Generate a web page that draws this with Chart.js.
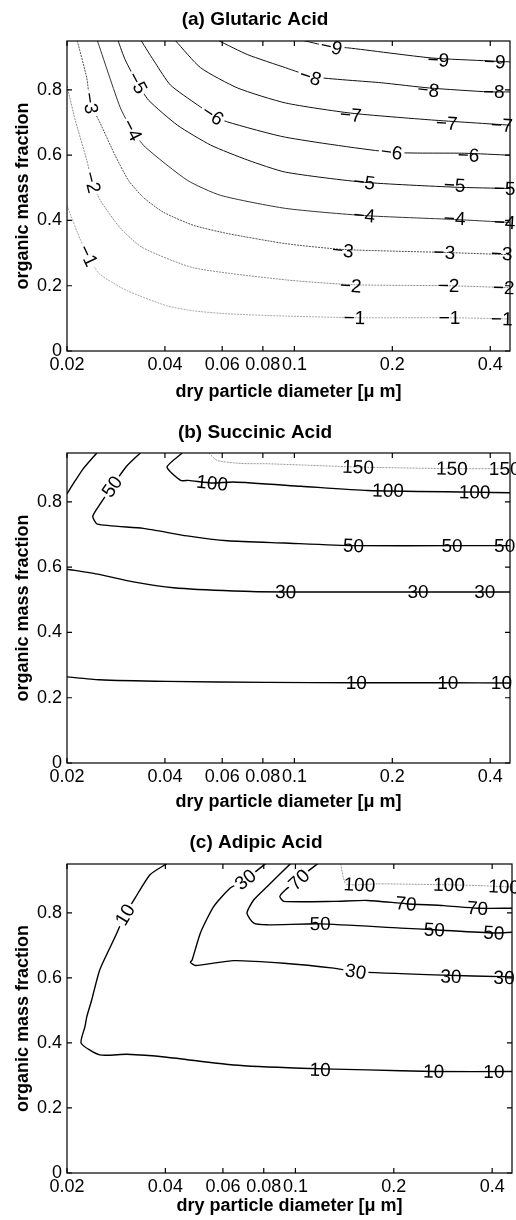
<!DOCTYPE html>
<html>
<head>
<meta charset="utf-8">
<script src="https://cdn.jsdelivr.net/npm/chart.js@4.4.0/dist/chart.umd.min.js"></script>
<style>
html, body { margin: 0; padding: 0; background: #fff; }
body { width: 516px; height: 1220px; position: relative; overflow: hidden; }
.panel { position: absolute; left: 0; width: 516px; }
</style>
</head>
<body>
<div class="panel" style="top:0;height:411px"><canvas id="chartA"></canvas></div>
<div class="panel" style="top:411px;height:411px"><canvas id="chartB"></canvas></div>
<div class="panel" style="top:822px;height:398px"><canvas id="chartC"></canvas></div>
<script>
// axes
const xTicks = [0.02, 0.04, 0.06, 0.08, 0.1, 0.2, 0.4];
const yTicks = [0, 0.2, 0.4, 0.6, 0.8];
const xRange = [0.02, 0.46];
const yRange = [0, 0.95];

// (a) Glutaric acid contours
const glutaricLevels = [-1, -2, -3, -4, -5, -6, -7, -8, -9];
const glutaricX = [
  [0.02, 0.0219, 0.0232, 0.0251, 0.0306, 0.0407, 0.049, 0.0623, 0.094, 0.157, 0.304, 0.46],
  [0.02, 0.0212, 0.023, 0.0239, 0.0253, 0.0291, 0.0341, 0.049, 0.094, 0.152, 0.298, 0.46],
  [0.0215, 0.023, 0.0236, 0.0253, 0.0281, 0.0309, 0.0343, 0.0396, 0.049, 0.0623, 0.094, 0.142, 0.29, 0.46],
  [0.0248, 0.0291, 0.0317, 0.0348, 0.0469, 0.0593, 0.094, 0.164, 0.311, 0.46],
  [0.0287, 0.0302, 0.0329, 0.0356, 0.0437, 0.0553, 0.0719, 0.094, 0.164, 0.311, 0.46],
  [0.0338, 0.0374, 0.0416, 0.0504, 0.0561, 0.0623, 0.094, 0.199, 0.334, 0.46],
  [0.0431, 0.0515, 0.0669, 0.094, 0.149, 0.264, 0.46],
  [0.0585, 0.0719, 0.094, 0.115, 0.185, 0.26, 0.396, 0.46],
  [0.107, 0.13, 0.146, 0.264, 0.396, 0.46]
];
const glutaricY = [
  [0.446, 0.345, 0.292, 0.237, 0.185, 0.138, 0.123, 0.114, 0.107, 0.102, 0.102, 0.098],
  [0.812, 0.708, 0.585, 0.517, 0.462, 0.378, 0.317, 0.255, 0.218, 0.203, 0.2, 0.194],
  [0.951, 0.837, 0.76, 0.698, 0.6, 0.523, 0.471, 0.425, 0.385, 0.36, 0.329, 0.311, 0.302, 0.295],
  [0.951, 0.748, 0.677, 0.625, 0.523, 0.477, 0.437, 0.415, 0.403, 0.394],
  [0.951, 0.892, 0.822, 0.769, 0.692, 0.631, 0.585, 0.548, 0.517, 0.502, 0.498],
  [0.951, 0.882, 0.815, 0.754, 0.723, 0.702, 0.655, 0.609, 0.606, 0.6],
  [0.951, 0.868, 0.806, 0.76, 0.729, 0.708, 0.692],
  [0.951, 0.908, 0.868, 0.84, 0.822, 0.806, 0.794, 0.794],
  [0.951, 0.932, 0.929, 0.898, 0.889, 0.886]
];
const glutaricLabels = [
  [-9, 0.13, 0.932], [-9, 0.277, 0.892], [-9, 0.413, 0.886],
  [-8, 0.112, 0.84], [-8, 0.258, 0.8], [-8, 0.41, 0.794],
  [-7, 0.149, 0.723], [-7, 0.294, 0.698], [-7, 0.434, 0.692],
  [-6, 0.0561, 0.723], [-6, 0.199, 0.609], [-6, 0.343, 0.6],
  [-5, 0.0329, 0.822], [-5, 0.164, 0.517], [-5, 0.311, 0.508], [-5, 0.443, 0.498],
  [-4, 0.0317, 0.677], [-4, 0.164, 0.415], [-4, 0.311, 0.406], [-4, 0.443, 0.394],
  [-3, 0.0236, 0.76], [-3, 0.141, 0.308], [-3, 0.289, 0.302], [-3, 0.434, 0.298],
  [-2, 0.0239, 0.517], [-2, 0.149, 0.2], [-2, 0.298, 0.2], [-2, 0.44, 0.194],
  [-1, 0.0232, 0.292], [-1, 0.153, 0.102], [-1, 0.3, 0.102], [-1, 0.434, 0.098]
];

// (b) Succinic acid
const succinicLevels = [10, 30, 50, 50, 100, 150];
const succinicX = [
  [0.02, 0.0251, 0.0407, 0.0828, 0.155, 0.3, 0.46],
  [0.02, 0.0251, 0.032, 0.0425, 0.065, 0.094, 0.234, 0.385, 0.46],
  [0.0336, 0.0304, 0.0275, 0.0253, 0.024, 0.0248, 0.0343, 0.0468, 0.0622, 0.093, 0.152, 0.305, 0.46],
  [0.02, 0.0212, 0.02245, 0.0247],
  [0.0452, 0.0406, 0.0447, 0.0473, 0.0559, 0.065, 0.1048, 0.168, 0.358, 0.46],
  [0.0545, 0.058, 0.0684, 0.0828, 0.157, 0.305, 0.46]
];
const succinicY = [
  [0.264, 0.255, 0.25, 0.247, 0.246, 0.246, 0.245],
  [0.594, 0.578, 0.555, 0.537, 0.527, 0.524, 0.524, 0.524, 0.524],
  [0.95, 0.908, 0.847, 0.794, 0.756, 0.732, 0.719, 0.696, 0.681, 0.674, 0.666, 0.666, 0.666],
  [0.825, 0.865, 0.902, 0.95],
  [0.95, 0.907, 0.866, 0.866, 0.858, 0.861, 0.848, 0.835, 0.83, 0.828],
  [0.95, 0.927, 0.918, 0.917, 0.907, 0.902, 0.902]
];
const succinicLabels = [
  [150, 0.157, 0.907], [150, 0.305, 0.902], [150, 0.443, 0.902],
  [100, 0.0559, 0.858], [100, 0.194, 0.835], [100, 0.358, 0.83],
  [50, 0.0275, 0.847], [50, 0.152, 0.666], [50, 0.305, 0.666], [50, 0.443, 0.666],
  [30, 0.094, 0.524], [30, 0.24, 0.524], [30, 0.385, 0.524],
  [10, 0.155, 0.246], [10, 0.296, 0.246], [10, 0.433, 0.246]
];

// (c) Adipic acid
const adipicLevels = [10, 30, 50, 70, 100];
const adipicX = [
  [0.0404, 0.0359, 0.0323, 0.0301, 0.0281, 0.0252, 0.0238, 0.023, 0.0227, 0.0221, 0.0252, 0.0305, 0.0404, 0.0646, 0.1037, 0.166, 0.265, 0.46],
  [0.081, 0.0703, 0.0632, 0.0562, 0.0512, 0.0483, 0.0477, 0.0494, 0.0647, 0.0922, 0.131, 0.153, 0.266, 0.46],
  [0.0966, 0.082, 0.0746, 0.0711, 0.0746, 0.082, 0.119, 0.21, 0.266, 0.405, 0.46],
  [0.117, 0.109, 0.1025, 0.0933, 0.0896, 0.0922, 0.131, 0.166, 0.218, 0.285, 0.361, 0.46],
  [0.1376, 0.14, 0.143, 0.157, 0.178, 0.295, 0.378, 0.46]
];
const adipicY = [
  [0.951, 0.917, 0.845, 0.794, 0.727, 0.625, 0.532, 0.481, 0.45, 0.399, 0.363, 0.365, 0.356, 0.332, 0.322, 0.317, 0.312, 0.312],
  [0.951, 0.902, 0.876, 0.819, 0.738, 0.655, 0.648, 0.638, 0.653, 0.645, 0.63, 0.619, 0.609, 0.603],
  [0.951, 0.881, 0.84, 0.799, 0.768, 0.763, 0.766, 0.753, 0.748, 0.738, 0.74],
  [0.951, 0.927, 0.902, 0.871, 0.85, 0.835, 0.835, 0.838, 0.828, 0.822, 0.814, 0.814],
  [0.951, 0.91, 0.888, 0.886, 0.889, 0.886, 0.883, 0.879]
];
const adipicLabels = [
  [10, 0.0301, 0.794], [10, 0.119, 0.317], [10, 0.265, 0.312], [10, 0.405, 0.312],
  [30, 0.0703, 0.902], [30, 0.153, 0.619], [30, 0.299, 0.604], [30, 0.435, 0.6],
  [50, 0.119, 0.766], [50, 0.266, 0.748], [50, 0.405, 0.738],
  [70, 0.1025, 0.902], [70, 0.218, 0.828], [70, 0.361, 0.814],
  [100, 0.157, 0.886], [100, 0.295, 0.886], [100, 0.435, 0.88]
];

const fontFamily = '"Liberation Sans", Arial, Helvetica, sans-serif';

function levelText(level) {
  return level < 0 ? '\u2212' + Math.abs(level) : String(level);
}

// line look per contour level
function glutaricStyle(level) {
  if (level === -1) return { borderColor: '#a8a8a8', borderWidth: 1, borderDash: [2, 1] };
  if (level === -2) return { borderColor: '#8c8c8c', borderWidth: 1, borderDash: [2, 1] };
  if (level === -3) return { borderColor: '#505050', borderWidth: 1, borderDash: [2, 1] };
  if (level === -4) return { borderColor: '#333', borderWidth: 1 };
  return { borderColor: '#111', borderWidth: 1 };
}
function succinicStyle(level) {
  if (level === 150) return { borderColor: '#9a9a9a', borderWidth: 1, borderDash: [2, 1] };
  return { borderColor: '#000', borderWidth: 1.4 };
}
function adipicStyle(level) {
  if (level === 100) return { borderColor: '#9a9a9a', borderWidth: 1, borderDash: [2, 1] };
  return { borderColor: '#000', borderWidth: 1.4 };
}

function makeDatasets(levels, xs, ys, styleFor) {
  return levels.map((level, i) => Object.assign({
    level: level,
    data: xs[i].map((x, j) => ({ x: x, y: ys[i][j] })),
    showLine: true,
    pointRadius: 0,
    pointHoverRadius: 0,
    fill: false,
    tension: 0.2
  }, styleFor(level)));
}

// clabel-like text, turned along the nearest piece of its contour
function labelPlugin(items) {
  return {
    id: 'contourLabels',
    afterDatasetsDraw(chart) {
      const ctx = chart.ctx, sx = chart.scales.x, sy = chart.scales.y;
      ctx.save();
      ctx.font = '19px ' + fontFamily;
      ctx.textAlign = 'center';
      ctx.textBaseline = 'middle';
      items.forEach(item => {
        const level = item[0];
        const px = sx.getPixelForValue(item[1]), py = sy.getPixelForValue(item[2]);
        let best = Infinity, angle = 0;
        chart.data.datasets.forEach(ds => {
          if (ds.level !== level) return;
          for (let i = 1; i < ds.data.length; i++) {
            const ax = sx.getPixelForValue(ds.data[i - 1].x), ay = sy.getPixelForValue(ds.data[i - 1].y);
            const bx = sx.getPixelForValue(ds.data[i].x), by = sy.getPixelForValue(ds.data[i].y);
            const dx = bx - ax, dy = by - ay, len2 = dx * dx + dy * dy || 1;
            let t = ((px - ax) * dx + (py - ay) * dy) / len2;
            t = Math.max(0, Math.min(1, t));
            const qx = ax + t * dx - px, qy = ay + t * dy - py, d = qx * qx + qy * qy;
            if (d < best) { best = d; angle = Math.atan2(dy, dx); }
          }
        });
        if (angle > Math.PI / 2) angle -= Math.PI;
        if (angle <= -Math.PI / 2) angle += Math.PI;
        const text = levelText(level);
        ctx.save();
        ctx.translate(px, py);
        ctx.rotate(angle);
        if (Math.abs(angle) > 0.14) {
          const w = ctx.measureText(text).width + 4;
          ctx.fillStyle = '#fff';
          ctx.fillRect(-w / 2, -9, w, 18);
        }
        ctx.fillStyle = '#000';
        ctx.fillText(text, 0, 1);
        ctx.restore();
      });
      ctx.restore();
    }
  };
}

// box round the plot with inward ticks on all four sides
const frameTicks = {
  id: 'frameTicks',
  afterDraw(chart) {
    const ctx = chart.ctx, a = chart.chartArea, sx = chart.scales.x, sy = chart.scales.y;
    ctx.save();
    ctx.strokeStyle = '#000';
    ctx.lineWidth = 1.2;
    ctx.strokeRect(a.left, a.top, a.right - a.left, a.bottom - a.top);
    ctx.beginPath();
    xTicks.forEach(v => {
      const x = sx.getPixelForValue(v);
      ctx.moveTo(x, a.bottom); ctx.lineTo(x, a.bottom - 5);
      ctx.moveTo(x, a.top); ctx.lineTo(x, a.top + 5);
    });
    yTicks.forEach(v => {
      const y = sy.getPixelForValue(v);
      ctx.moveTo(a.left, y); ctx.lineTo(a.left + 5, y);
      ctx.moveTo(a.right, y); ctx.lineTo(a.right - 5, y);
    });
    ctx.stroke();
    ctx.restore();
  }
};

function drawPanel(canvasId, title, datasets, labels, pad) {
  new Chart(document.getElementById(canvasId), {
    type: 'scatter',
    data: { datasets: datasets },
    options: {
      responsive: true,
      maintainAspectRatio: false,
      animation: false,
      events: [],
      layout: { padding: { left: 0, right: pad.right, top: 0, bottom: 0 } },
      plugins: {
        legend: { display: false },
        tooltip: { enabled: false },
        title: {
          display: true,
          text: title,
          color: '#000',
          font: { family: fontFamily, size: 19, weight: 'bold' },
          padding: { top: pad.titleTop, bottom: pad.titleBottom }
        }
      },
      scales: {
        x: {
          type: 'logarithmic',
          min: xRange[0],
          max: xRange[1],
          afterFit: s => { s.height = pad.xAxis; },
          afterBuildTicks: s => { s.ticks = xTicks.map(v => ({ value: v })); },
          ticks: {
            autoSkip: false, maxRotation: 0, minRotation: 0, padding: 3,
            color: '#000', font: { family: fontFamily, size: 18 },
            callback: v => String(v)
          },
          grid: { display: false, drawTicks: false },
          border: { display: false },
          title: {
            display: true,
            text: 'dry particle diameter [\u03bc m]',
            color: '#000',
            font: { family: fontFamily, size: 18, weight: 'bold' },
            padding: { top: 0, bottom: pad.xTitle }
          }
        },
        y: {
          type: 'linear',
          min: yRange[0],
          max: yRange[1],
          afterFit: s => { s.width = 67; },
          afterBuildTicks: s => { s.ticks = yTicks.map(v => ({ value: v })); },
          ticks: {
            padding: 5, color: '#000', font: { family: fontFamily, size: 18 },
            callback: v => String(v)
          },
          grid: { display: false, drawTicks: false },
          border: { display: false },
          title: {
            display: true,
            text: 'organic mass fraction',
            color: '#000',
            font: { family: fontFamily, size: 18, weight: 'bold' },
            padding: { top: 12, bottom: 0 }
          }
        }
      }
    },
    plugins: [labelPlugin(labels), frameTicks]
  });
}

drawPanel('chartA', '(a) Glutaric Acid',
  makeDatasets(glutaricLevels, glutaricX, glutaricY, glutaricStyle), glutaricLabels,
  { right: 6, titleTop: 8.6, titleBottom: 9.6, xAxis: 60, xTitle: 8.5 });
drawPanel('chartB', '(b) Succinic Acid',
  makeDatasets(succinicLevels, succinicX, succinicY, succinicStyle), succinicLabels,
  { right: 6, titleTop: 10.6, titleBottom: 8.6, xAxis: 59, xTitle: 9 });
drawPanel('chartC', '(c) Adipic Acid',
  makeDatasets(adipicLevels, adipicX, adipicY, adipicStyle), adipicLabels,
  { right: 4, titleTop: 9.6, titleBottom: 9.6, xAxis: 47, xTitle: 3 });
</script>
</body>
</html>
